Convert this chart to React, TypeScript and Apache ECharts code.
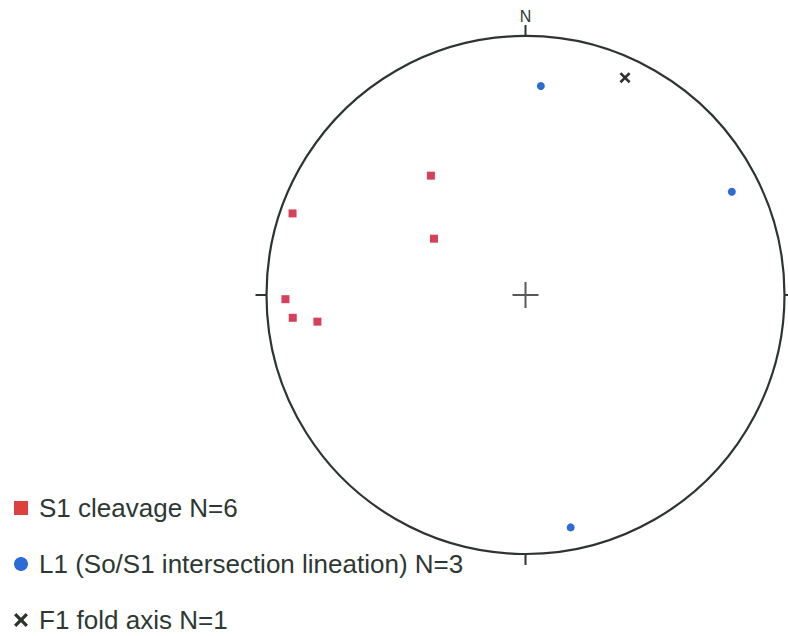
import React, { useEffect, useRef } from "react";
import * as echarts from "echarts";

// Stereonet data: projected radius (0 = centre, 1 = primitive circle) and azimuth (degrees from N, clockwise)
const s1Radius = [0.588, 0.953, 0.415, 0.927, 0.903, 0.81];
const s1Azimuth = [321.6, 289.3, 301.6, 269.0, 264.4, 262.7];

const l1Radius = [0.809, 0.891, 0.914];
const l1Azimuth = [4.2, 63.4, 169.0];

const f1Radius = [0.923];
const f1Azimuth = [24.6];

const seriesNames = [
  "S1 cleavage N=6",
  "L1 (So/S1 intersection lineation) N=3",
  "F1 fold axis N=1",
];

const angleTicks = [0, 90, 180, 270];
const northLabel = "N";

const CROSS =
  "path://M0,2L2,0L6,4L10,0L12,2L8,6L12,10L10,12L6,8L2,12L0,10L4,6Z";

const CX = 525.5;
const CY = 295;
const R = 259;

export default function App() {
  const ref = useRef<HTMLDivElement>(null);
  useEffect(() => {
    document.body.style.margin = "0";
    if (!ref.current) return;
    const chart = echarts.init(ref.current, null, { renderer: "svg" });
    const zip = (r: number[], a: number[]) => r.map((v, i) => [v, a[i]]);
    const lineColor = "#2c3531";
    chart.setOption({
      animation: false,
      backgroundColor: "#ffffff",
      polar: { center: [CX, CY], radius: R },
      angleAxis: {
        type: "value",
        min: 0,
        max: 360,
        interval: 90,
        startAngle: 90,
        clockwise: true,
        axisLine: { show: true, lineStyle: { color: lineColor, width: 2.2 } },
        axisTick: {
          show: true,
          length: 11,
          lineStyle: { color: lineColor, width: 2 },
        },
        axisLabel: {
          margin: 12,
          color: "#2d3833",
          fontSize: 16,
          fontFamily: "Liberation Sans, Arial, sans-serif",
          formatter: (v: number) => (v === angleTicks[0] ? northLabel : ""),
        },
        splitLine: { show: false },
      },
      radiusAxis: {
        type: "value",
        min: 0,
        max: 1,
        axisLine: { show: false },
        axisTick: { show: false },
        axisLabel: { show: false },
        splitLine: { show: false },
      },
      legend: {
        orient: "vertical",
        left: 14,
        top: 495,
        padding: 0,
        height: 200,
        itemWidth: 14,
        itemHeight: 14,
        itemGap: 30,
        data: [
          { name: seriesNames[0], icon: "rect", itemStyle: { color: "#de3f3f", opacity: 1 } },
          { name: seriesNames[1], icon: "circle" },
          { name: seriesNames[2], icon: CROSS },
        ],
        textStyle: {
          fontSize: 26,
          lineHeight: 26,
          color: "#2d3833",
          fontFamily: "Liberation Sans, Arial, sans-serif",
          padding: [0, 0, 0, 6],
        },
      },
      series: [
        {
          name: seriesNames[0],
          type: "scatter",
          coordinateSystem: "polar",
          symbol: "rect",
          symbolSize: 8,
          itemStyle: { color: "#d5405a", opacity: 1 },
          data: zip(s1Radius, s1Azimuth),
        },
        {
          name: seriesNames[1],
          type: "scatter",
          coordinateSystem: "polar",
          symbol: "circle",
          symbolSize: 8,
          itemStyle: { color: "#2c6cd4", opacity: 1 },
          data: zip(l1Radius, l1Azimuth),
        },
        {
          name: seriesNames[2],
          type: "scatter",
          coordinateSystem: "polar",
          symbol: CROSS,
          symbolSize: 11,
          itemStyle: { color: "#2f3330", opacity: 1 },
          data: zip(f1Radius, f1Azimuth),
        },
      ],
      graphic: [
        {
          type: "group",
          silent: true,
          children: [
            {
              type: "line",
              shape: { x1: CX - 13, y1: CY, x2: CX + 13, y2: CY },
              style: { stroke: "#555a58", lineWidth: 2 },
            },
            {
              type: "line",
              shape: { x1: CX, y1: CY - 13, x2: CX, y2: CY + 13 },
              style: { stroke: "#555a58", lineWidth: 2 },
            },
          ],
        },
      ],
    });
    return () => chart.dispose();
  }, []);
  return <div ref={ref} style={{ width: 788, height: 636 }} />;
}
